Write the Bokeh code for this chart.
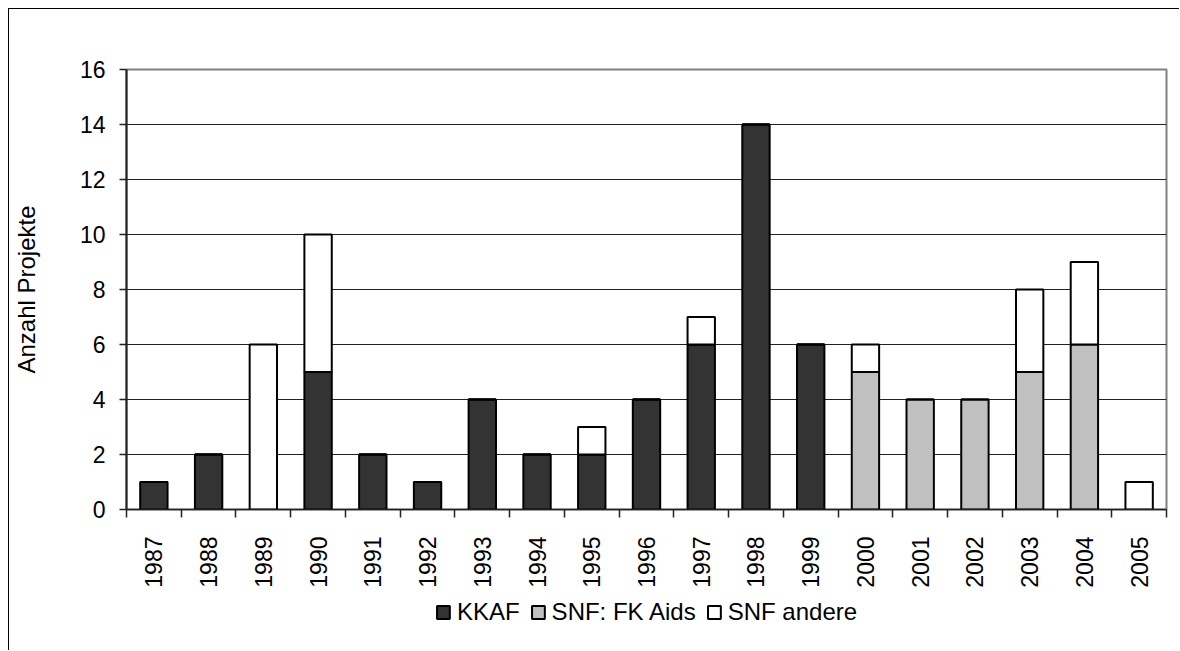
import math
from bokeh.plotting import figure
from bokeh.layouts import column
from bokeh.models import (Range1d, FixedTicker, Legend, LegendItem, ColumnDataSource)
from bokeh.embed import file_html
from bokeh.resources import INLINE

years = [1987, 1988, 1989, 1990, 1991, 1992, 1993, 1994, 1995, 1996,
         1997, 1998, 1999, 2000, 2001, 2002, 2003, 2004, 2005]
kkaf = [1, 2, 0, 5, 2, 1, 4, 2, 2, 4, 6, 14, 6, 0, 0, 0, 0, 0, 0]
snf_fk_aids = [0, 0, 0, 0, 0, 0, 0, 0, 0, 0, 0, 0, 0, 5, 4, 4, 5, 6, 0]
snf_andere = [0, 0, 6, 5, 0, 0, 0, 0, 1, 0, 1, 0, 0, 1, 0, 0, 3, 3, 1]
series_labels = ["KKAF", "SNF: FK Aids", "SNF andere"]
series_colors = ["#333333", "#c0c0c0", "#ffffff"]
y_ticks = [0, 2, 4, 6, 8, 10, 12, 14, 16]

FONT = "Liberation Sans"
W = 1170
ML, MR = 114, 13
stackers = ["kkaf", "snf_fk", "snf_andere"]

source = ColumnDataSource(dict(year=years, kkaf=kkaf, snf_fk=snf_fk_aids, snf_andere=snf_andere))

p = figure(width=W, height=581,
           x_range=Range1d(years[0] - 0.5, years[-1] + 0.5),
           y_range=Range1d(0, 16),
           output_backend="svg", toolbar_location=None,
           min_border_left=ML, min_border_right=MR,
           min_border_top=60, min_border_bottom=80,
           background_fill_color="white", border_fill_color="white")

renderers = p.vbar_stack(stackers, x="year", width=0.5,
                         source=source, fill_color=series_colors,
                         line_color="black", line_width=2)

# frame
p.outline_line_color = "#808080"
p.outline_line_width = 2

# grid
p.xgrid.grid_line_color = None
p.ygrid.grid_line_color = "#222222"
p.ygrid.grid_line_width = 1

# y axis
p.yaxis.ticker = FixedTicker(ticks=y_ticks)
p.yaxis.axis_line_color = "#222222"
p.yaxis.axis_line_width = 2
p.yaxis.major_tick_out = 7
p.yaxis.major_tick_in = 0
p.yaxis.major_tick_line_color = "#222222"
p.yaxis.major_tick_line_width = 1.5
p.yaxis.minor_tick_line_color = None
p.yaxis.major_label_standoff = 14
p.yaxis.major_label_text_font = FONT
p.yaxis.major_label_text_font_size = "23px"
p.yaxis.major_label_text_color = "black"
p.yaxis.axis_label = "Anzahl Projekte"
p.yaxis.axis_label_text_font = FONT
p.yaxis.axis_label_text_font_size = "24px"
p.yaxis.axis_label_text_font_style = "normal"
p.yaxis.axis_label_text_color = "black"
p.yaxis.axis_label_standoff = 37

# x axis
boundaries = [y - 0.5 for y in years] + [years[-1] + 0.5]
p.xaxis.ticker = FixedTicker(ticks=years, minor_ticks=boundaries)
p.xaxis.major_label_overrides = {y: str(y) for y in years}
p.xaxis.major_label_orientation = math.pi / 2
p.xaxis.axis_line_color = "#222222"
p.xaxis.axis_line_width = 1.5
p.xaxis.major_tick_line_color = None
p.xaxis.major_tick_out = 0
p.xaxis.major_tick_in = 0
p.xaxis.minor_tick_out = 8
p.xaxis.minor_tick_in = 0
p.xaxis.minor_tick_line_color = "#222222"
p.xaxis.minor_tick_line_width = 1.5
p.xaxis.major_label_standoff = 19
p.xaxis.major_label_text_font = FONT
p.xaxis.major_label_text_font_size = "23px"
p.xaxis.major_label_text_color = "black"

# legend strip below the chart (its renderers are hidden; only the swatches show)
pl = figure(width=W, height=60, x_range=Range1d(years[0] - 0.5, years[-1] + 0.5),
            y_range=Range1d(0, 16),
            output_backend="svg", toolbar_location=None,
            x_axis_type=None, y_axis_type=None,
            min_border_left=ML, min_border_right=MR, min_border_top=0, min_border_bottom=16,
            background_fill_color="white", border_fill_color="white")
pl.outline_line_color = None
pl.grid.grid_line_color = None
swatches = pl.vbar_stack(stackers, x="year", width=0.5, source=source,
                         fill_color=series_colors, line_color="black", line_width=2)
for r in swatches:
    r.visible = False
legend = Legend(items=[LegendItem(label=lab, renderers=[r])
                       for lab, r in zip(series_labels, swatches)],
                orientation="horizontal", location="center",
                border_line_color=None, background_fill_alpha=0,
                inactive_fill_alpha=0,
                glyph_width=16, glyph_height=16, label_standoff=6,
                spacing=10, padding=4, margin=0,
                label_text_font=FONT, label_text_font_size="24px",
                label_text_color="black")
pl.add_layout(legend, "center")

layout = column(p, pl, spacing=0, margin=(8, 0, 0, 8),
                styles={"border-left": "1px solid #000000", "border-top": "1px solid #000000"})

open("out.html", "w").write(file_html(layout, INLINE))
